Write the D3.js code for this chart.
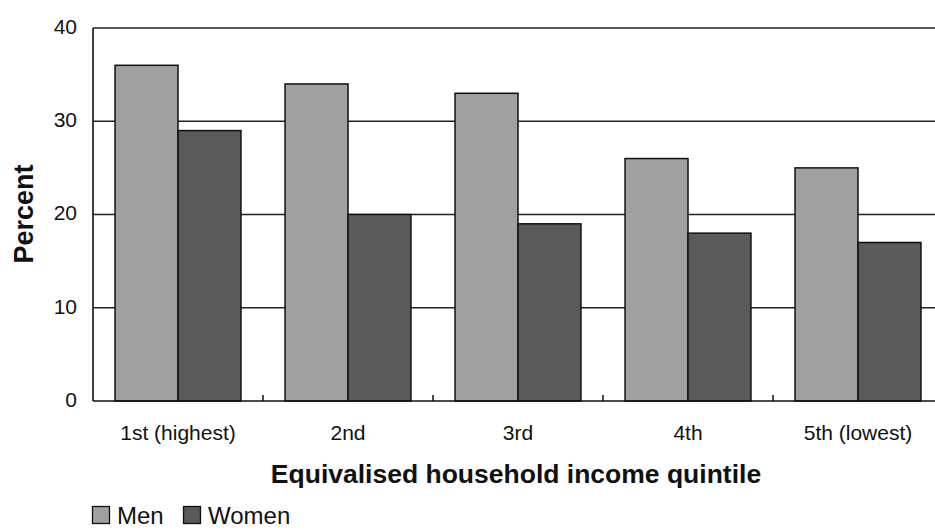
<!DOCTYPE html>
<html>
<head>
<meta charset="utf-8">
<script src="https://cdn.jsdelivr.net/npm/d3@7"></script>
<style>
  html, body { margin: 0; padding: 0; background: #fff; }
  svg { display: block; font-family: "Liberation Sans", Arial, sans-serif; }
</style>
</head>
<body>
<svg id="chart" width="935" height="530"></svg>
<script>
// Values.
const categories = ['1st (highest)', '2nd', '3rd', '4th', '5th (lowest)'];
const seriesNames = ['Men', 'Women'];
const men = [36, 34, 33, 26, 25];
const women = [29, 20, 19, 18, 17];
const yTicks = [0, 10, 20, 30, 40];

const FILLS = { Men: '#a0a0a0', Women: '#5a5a5a' };

const svg = d3.select('#chart');
// plot runs a bit past the right edge of the picture, as in the original
const margin = { left: 93, top: 28, right: -8, bottom: 129 };
const W = 935, H = 530;
const x0 = margin.left, x1 = W - margin.right;
const yTop = margin.top, yBot = H - margin.bottom;

const x = d3.scaleBand().domain(categories).range([x0, x1]).paddingInner(0).paddingOuter(0);
const xs = d3.scaleBand().domain(seriesNames).range([0, x.bandwidth()]).paddingInner(0).paddingOuter(0.35);
const y = d3.scaleLinear().domain([0, 40]).range([yBot, yTop]);

const rows = categories.map((c, i) => ({ cat: c, Men: men[i], Women: women[i] }));

// gridlines
svg.append('g').selectAll('line').data(yTicks.filter(d => d > 0)).join('line')
  .attr('x1', x0).attr('x2', x1)
  .attr('y1', d => y(d)).attr('y2', d => y(d))
  .attr('stroke', '#222').attr('stroke-width', 1.6);

// bars
svg.append('g').selectAll('g').data(rows).join('g')
  .attr('transform', d => `translate(${x(d.cat)},0)`)
  .selectAll('rect').data(d => seriesNames.map(s => ({ s, v: d[s] }))).join('rect')
  .attr('x', d => xs(d.s)).attr('width', xs.bandwidth())
  .attr('y', d => y(d.v)).attr('height', d => y(0) - y(d.v))
  .attr('fill', d => FILLS[d.s]).attr('stroke', '#111').attr('stroke-width', 1.5);

// axis lines
svg.append('line').attr('x1', x0).attr('x2', x0).attr('y1', yTop).attr('y2', yBot)
  .attr('stroke', '#111').attr('stroke-width', 1.6);
svg.append('line').attr('x1', x0).attr('x2', x1).attr('y1', yBot).attr('y2', yBot)
  .attr('stroke', '#111').attr('stroke-width', 1.6);

// category boundary ticks (pointing up)
svg.append('g').selectAll('line').data(categories.slice(1)).join('line')
  .attr('x1', d => x(d)).attr('x2', d => x(d))
  .attr('y1', yBot).attr('y2', yBot - 6)
  .attr('stroke', '#111').attr('stroke-width', 1.5);

// y tick labels
svg.append('g').selectAll('text').data(yTicks).join('text')
  .attr('x', 77).attr('y', d => y(d)).attr('dy', '0.28em')
  .attr('text-anchor', 'end').attr('font-size', 21).attr('fill', '#111')
  .text(d => d);

// x tick labels
svg.append('g').selectAll('text').data(categories).join('text')
  .attr('x', d => x(d) + x.bandwidth() / 2).attr('y', 440)
  .attr('text-anchor', 'middle').attr('font-size', 21).attr('fill', '#111')
  .text(d => d);

// axis titles
svg.append('text')
  .attr('transform', `translate(33,214) rotate(-90)`)
  .attr('text-anchor', 'middle').attr('font-size', 27).attr('font-weight', 'bold').attr('fill', '#111')
  .text('Percent');
svg.append('text')
  .attr('x', 516).attr('y', 483)
  .attr('text-anchor', 'middle').attr('font-size', 26.5).attr('font-weight', 'bold').attr('fill', '#111')
  .text('Equivalised household income quintile');

// legend
const legend = svg.append('g').attr('transform', 'translate(92,506)');
const legX = [0, 91];
seriesNames.forEach((s, i) => {
  const g = legend.append('g').attr('transform', `translate(${legX[i]},0)`);
  g.append('rect').attr('x', 0.5).attr('y', 0.5).attr('width', 17).attr('height', 17)
    .attr('fill', FILLS[s]).attr('stroke', '#111').attr('stroke-width', 1.3);
  g.append('text').attr('x', 25).attr('y', 18).attr('font-size', 24).attr('fill', '#111').text(s);
});
</script>
</body>
</html>
